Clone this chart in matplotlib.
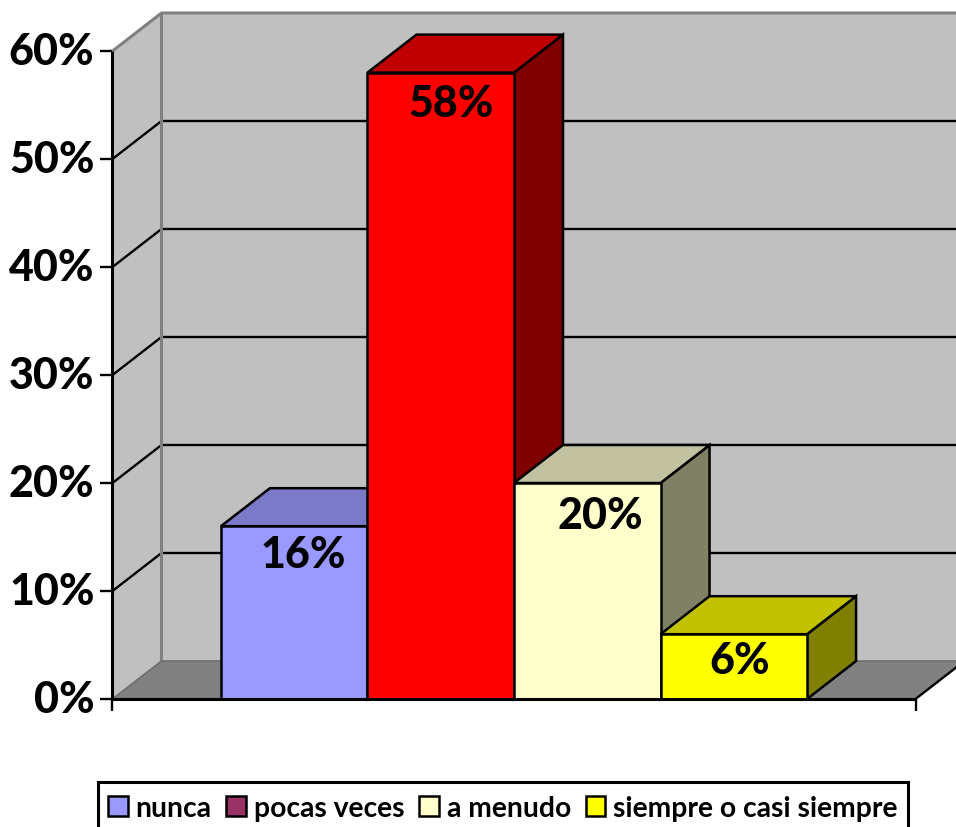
import matplotlib
matplotlib.use("Agg")
from matplotlib import pyplot as plt
from matplotlib.patches import Polygon, Patch, Rectangle

# datos
categorias = ["nunca", "pocas veces", "a menudo", "siempre o casi siempre"]
valores = [16, 58, 20, 6]
etiquetas = ["16%", "58%", "20%", "6%"]
marcas_y = [0, 10, 20, 30, 40, 50, 60]
marcas_txt = ["0%", "10%", "20%", "30%", "40%", "50%", "60%"]

# colores: frente, arriba, lado
frente = ["#9999FF", "#FF0000", "#FFFFCC", "#FFFF00"]
arriba = ["#7A7AC8", "#C00000", "#C2C2A0", "#C2C200"]
lado = ["#6060A0", "#800000", "#808064", "#808000"]
leyenda_col = ["#9999FF", "#993366", "#FFFFCC", "#FFFF00"]

# desplazamiento de las etiquetas respecto a la barra (en pixeles)
etq_dx = [9, 10, 13, 6]
etq_dy = [28, 30, 32, 26]

W, H = 956, 828
fig = plt.figure(figsize=(W / 100, H / 100), dpi=100, facecolor="white")
# el plano frontal del grafico
ax = fig.add_axes([112.5 / W, 1 - 700 / H, (915.5 - 112.5) / W, (700 - 52) / H])
ax.set_xlim(-2.74, 2.74)
ax.set_ylim(0, 60)
ax.axis("off")

# profundidad 3D en unidades de datos
px_x = 5.48 / (916 - 113)
px_y = 60 / (699 - 51)
dx = 49 * px_x
dy = 38 * px_y
x0, x1 = ax.get_xlim()


def poli(puntos, color, borde="none", lw=0, z=1):
    p = Polygon(puntos, closed=True, facecolor=color, edgecolor=borde, linewidth=lw,
                joinstyle="miter", clip_on=False, zorder=z)
    ax.add_patch(p)


def linea(xs, ys, color="black", lw=1.7, z=2):
    ax.plot(xs, ys, color=color, lw=lw, clip_on=False, zorder=z, solid_capstyle="butt")


# paredes y suelo
poli([(x0 + dx, dy), (x1 + dx, dy), (x1 + dx, 60 + dy), (x0 + dx, 60 + dy)], "#C0C0C0")
poli([(x0, 0), (x0 + dx, dy), (x0 + dx, 60 + dy), (x0, 60)], "#C0C0C0")
poli([(x0, 0), (x1, 0), (x1 + dx, dy), (x0 + dx, dy)], "#808080")

# lineas de division
for m in marcas_y[1:-1]:
    linea([x0, x0 + dx, x1 + dx], [m, m + dy, m + dy])
linea([x0, x0 + dx, x1 + dx], [60, 60 + dy, 60 + dy], color="#808080", lw=2.2)
linea([x0 + dx, x0 + dx], [dy, 60 + dy], color="#808080", lw=2.2)
linea([x0, x0 + dx, x1 + dx], [0, dy, dy], color="#6E6E6E", lw=1.2)
linea([x1, x1 + dx], [0, dy], lw=1.7)

# barras
for i, v in enumerate(valores):
    a = i - 2
    b = a + 1
    z = 3 + i
    poli([(b, 0), (b + dx, dy), (b + dx, v + dy), (b, v)], lado[i], "black", 1.8, z)
    poli([(a, v), (b, v), (b + dx, v + dy), (a + dx, v + dy)], arriba[i], "black", 1.8, z)
    poli([(a, 0), (b, 0), (b, v), (a, v)], frente[i], "black", 1.8, z)

for i, v in enumerate(valores):
    ax.annotate(etiquetas[i], xy=(i - 1.5, v), xytext=(etq_dx[i] * 0.72, -etq_dy[i] * 0.72),
                textcoords="offset points", ha="center", va="center", fontsize=31,
                family="Lato", fontweight="black", color="black", zorder=10)

# ejes
linea([x0, x1], [0, 0], lw=2.2, z=9)
linea([x0, x0], [0, 60], lw=2.2, z=9)
px_tick = 12
for m, t in zip(marcas_y, marcas_txt):
    linea([x0 - px_tick * px_x, x0], [m, m], lw=1.7, z=9)
    ax.text(x0 - 18 * px_x, m, t, ha="right", va="center", fontsize=31, family="Lato",
            fontweight="black", color="black")
linea([x0, x0], [0, -px_tick * px_y], lw=1.7, z=9)
linea([x1, x1], [0, -px_tick * px_y], lw=1.7, z=9)

# leyenda: marco aparte porque se corta por abajo
marco = Rectangle((98 / W, 1 - 840 / H), (908 - 98) / W, (840 - 783) / H, transform=fig.transFigure,
                  facecolor="white", edgecolor="black", linewidth=2.2)
fig.add_artist(marco)
manijas = [Patch(facecolor=c, edgecolor="black", linewidth=1.8) for c in leyenda_col]
ley = fig.legend(manijas, categorias, ncol=4, loc="center left",
                 bbox_to_anchor=(108 / W, 1 - 809 / H), borderaxespad=0,
                 prop={"family": "Lato", "weight": "bold", "size": 20.3},
                 handlelength=0.7, handleheight=0.7, handletextpad=0.28,
                 columnspacing=0.52, borderpad=0, frameon=False)

fig.savefig("out.png", dpi=100)
